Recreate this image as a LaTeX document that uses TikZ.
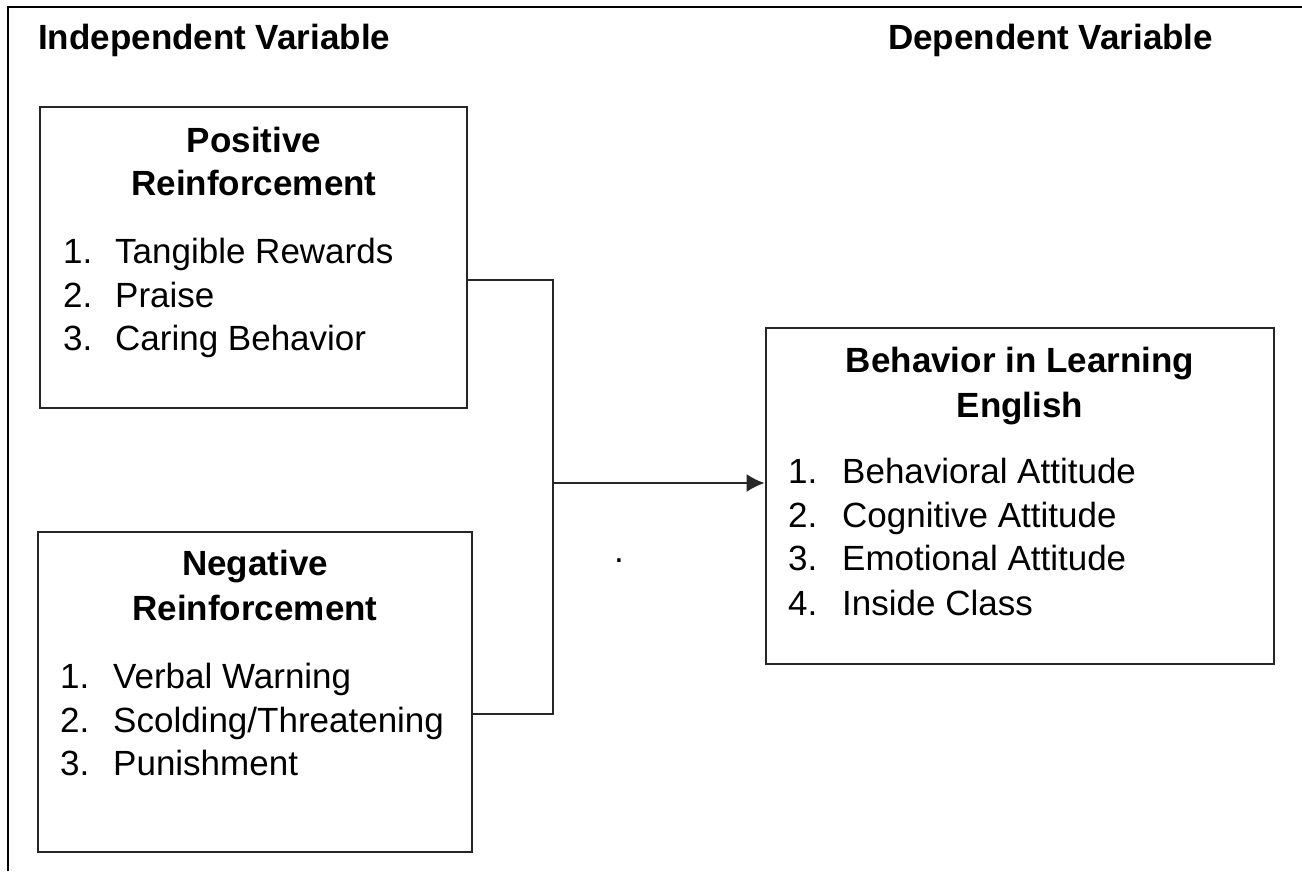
\documentclass[tikz,border=0pt]{standalone}
\usepackage{fontspec}
\setmainfont{Liberation Sans}
\usetikzlibrary{arrows.meta}
\begin{document}
\begin{tikzpicture}[x=1pt,y=-1pt,
  frameline/.style={line width=2.6pt,black},
  box/.style={draw=black!85,line width=2.8pt,rectangle,inner sep=0pt},
  txt/.style={inner sep=0pt,anchor=base west,font=\fontsize{35}{44}\selectfont,text=black},
  head/.style={inner sep=0pt,anchor=base,font=\fontsize{35}{44}\selectfont\bfseries,text=black},
  conn/.style={draw=black!85,line width=2pt}]
\useasboundingbox (0,0) rectangle (1302,871);
\fill[white] (0,0) rectangle (1302,871);
% outer frame (cropped)
\draw[frameline] (8,871) -- (8,7) -- (1302,7);
% titles
\node[txt,font=\fontsize{35}{44}\selectfont\bfseries] (ivt) at (38,49) {Independent Variable};
\node[txt,font=\fontsize{35}{44}\selectfont\bfseries] (dvt) at (888,49) {Dependent Variable};
% boxes
\node[box,minimum width=427pt,minimum height=301pt] (pos) at (253.5,257.5) {};
\node[box,minimum width=434pt,minimum height=320pt] (neg) at (255,692) {};
\node[box,minimum width=508pt,minimum height=336pt] (beh) at (1020,496) {};
% positive
\node[head] (p1) at (254,152) {Positive};
\node[head] (p2) at (254,195) {Reinforcement};
\node[txt] (pn1) at (63,263) {1.};
\node[txt] (pt1) at (115,263) {Tangible Rewards};
\node[txt] (pn2) at (63,307) {2.};
\node[txt] (pt2) at (115,307) {Praise};
\node[txt] (pn3) at (63,350) {3.};
\node[txt] (pt3) at (115,350) {Caring Behavior};
% negative
\node[head] (n1) at (255,575) {Negative};
\node[head] (n2) at (255,620) {Reinforcement};
\node[txt] (nn1) at (60,688) {1.};
\node[txt] (nt1) at (113,688) {Verbal Warning};
\node[txt] (nn2) at (60,732) {2.};
\node[txt] (nt2) at (113,732) {Scolding/Threatening};
\node[txt] (nn3) at (60,775) {3.};
\node[txt] (nt3) at (113,775) {Punishment};
% behavior
\node[head] (b1) at (1020,372) {Behavior in Learning};
\node[head] (b2) at (1020,417) {English};
\node[txt] (bn1) at (788,483) {1.};
\node[txt] (bt1) at (842,483) {Behavioral Attitude};
\node[txt] (bn2) at (788,527) {2.};
\node[txt] (bt2) at (842,527) {Cognitive Attitude};
\node[txt] (bn3) at (788,570) {3.};
\node[txt] (bt3) at (842,570) {Emotional Attitude};
\node[txt] (bn4) at (788,615) {4.};
\node[txt] (bt4) at (842,615) {Inside Class};
% stray dot
\node[txt] (dot) at (614,562) {.};
% connectors
\coordinate (j1) at (553,280);
\coordinate (j2) at (553,714);
\coordinate (jm) at (553,483);
\draw[conn] (pos.east |- j1) -- (j1) -- (j2) -- (neg.east |- j2);
\draw[conn,-{Latex[length=18pt,width=18pt]}] (jm) -- (beh.west |- jm);
\end{tikzpicture}
\end{document}
